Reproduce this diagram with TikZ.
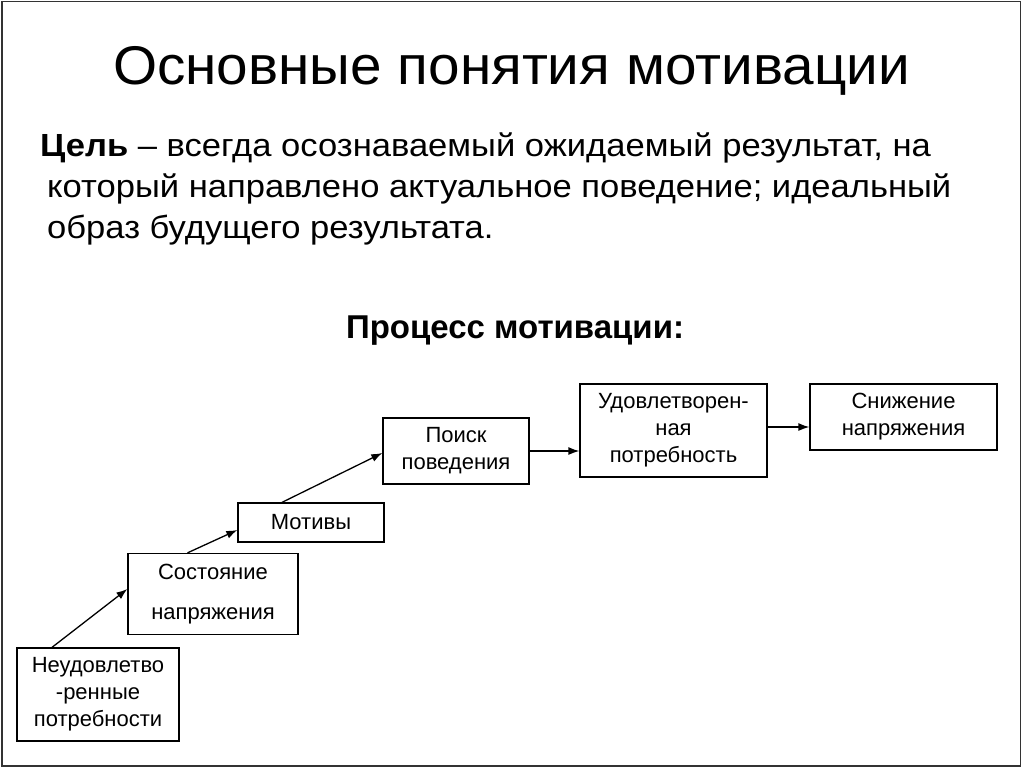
\documentclass[tikz,border=0pt]{standalone}
\usepackage{fontspec}
\setmainfont{Liberation Sans}
\newfontfamily\titlefont[FakeStretch=1.04]{Liberation Sans}
\newfontfamily\bodyfont[FakeStretch=1.08]{Liberation Sans}
\usetikzlibrary{arrows.meta}
\tikzset{
  stepbox/.style={draw, line width=1.3pt, inner sep=0pt, align=center, font=\fontsize{22}{27}\selectfont},
  conn/.style={line width=1.3pt, -{Latex[length=11pt,width=8pt]}},
  bodytext/.style={anchor=base west, inner sep=0pt, font=\bodyfont\fontsize{32}{38}\selectfont}
}
\begin{document}
\begin{tikzpicture}[x=1pt,y=-1pt]
\useasboundingbox (0,0) rectangle (1024,768);
\fill[white] (0,0) rectangle (1024,768);
\draw[line width=1.5pt, black!80] (2,1.5) rectangle (1020.5,766);

\node[anchor=base, inner sep=0pt, font=\titlefont\fontsize{54.5}{60}\selectfont] (title) at (511.5,84) {Основные понятия мотивации};

\node[bodytext] (l1) at (40,156) {\textbf{Цель} – всегда осознаваемый ожидаемый результат, на};
\node[bodytext] (l2) at (47,197) {который направлено актуальное поведение; идеальный};
\node[bodytext] (l3) at (47,238) {образ будущего результата.};

\node[anchor=base, inner sep=0pt, font=\fontsize{33}{38}\selectfont\bfseries] (proc) at (515,338) {Процесс мотивации:};

\node[stepbox, minimum width=162pt, minimum height=93pt] (b1) at (98,694.5) {Неудовлетво\\-ренные\\потребности};
\node[stepbox, minimum width=170pt, minimum height=81pt] (b2) at (213,594) {Состояние\\[13pt]напряжения};
\node[stepbox, minimum width=146pt, minimum height=39pt] (b3) at (311,522.5) {Мотивы};
\node[stepbox, minimum width=146pt, minimum height=66pt] (b4) at (456,451) {Поиск\\поведения};
\node[stepbox, minimum width=187pt, minimum height=93pt] (b5) at (673.5,430.5) {Удовлетворен-\\ная\\потребность};
\node[stepbox, minimum width=187pt, minimum height=66pt] (b6) at (903.5,417) {Снижение\\напряжения};

\draw[conn] ([xshift=-46pt]b1.north) -- ([yshift=5pt]b2.west);
\draw[conn] ([xshift=-25.5pt]b2.north) -- ([yshift=-7.5pt]b3.west);
\draw[conn] ([xshift=-29pt]b3.north) -- ([yshift=-2pt]b4.west);
\draw[conn] (b4.east) -- (b4.east -| b5.west);
\draw[conn] ([yshift=3.5pt]b5.east) -- ([yshift=3.5pt]b5.east -| b6.west);
\end{tikzpicture}
\end{document}
